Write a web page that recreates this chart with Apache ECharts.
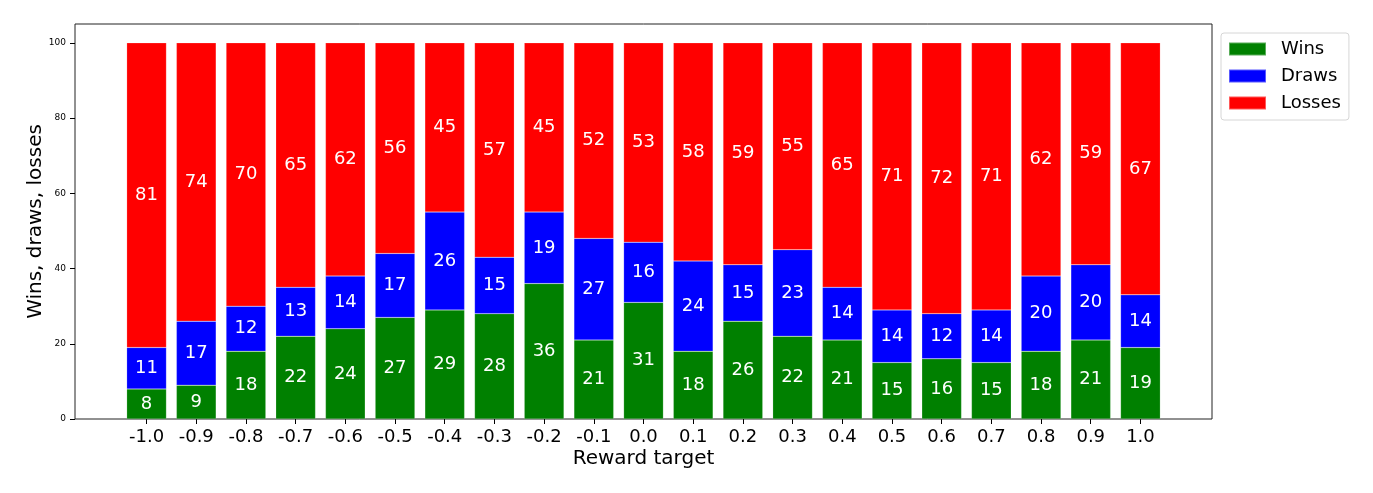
<!DOCTYPE html>
<html><head><meta charset="utf-8">
<script src="https://cdn.jsdelivr.net/npm/echarts@6/dist/echarts.min.js"></script>
<style>html,body{margin:0;padding:0;background:#fff}#c{width:1373px;height:493px}</style>
</head><body><div id="c"></div>
<script>
const categories = ['-1.0','-0.9','-0.8','-0.7','-0.6','-0.5','-0.4','-0.3','-0.2','-0.1','0.0','0.1','0.2','0.3','0.4','0.5','0.6','0.7','0.8','0.9','1.0'];
const wins   = [8,9,18,22,24,27,29,28,36,21,31,18,26,22,21,15,16,15,18,21,19];
const draws  = [11,17,12,13,14,17,26,15,19,27,16,24,15,23,14,14,12,14,20,20,14];
const losses = [81,74,70,65,62,56,45,57,45,52,53,58,59,55,65,71,72,71,62,59,67];
const yTicks = [0,20,40,60,80,100];

const FONT = 'DejaVu Sans';
const frameLeft = 75, frameTop = 24, frameW = 1137, frameH = 395;
const band = frameW / 22.88;
const barsLeft = frameLeft + 1.44 * band - 0.5 * band;
const barsW = band * 21;

function mk(name, data, color) {
  return {
    name, type: 'bar', stack: 'all', data, xAxisIndex: 1, yAxisIndex: 1,
    barWidth: '80%',
    itemStyle: { color, borderColor: 'rgba(255,255,255,0.35)', borderWidth: 0.5 },
    label: { show: true, position: 'inside', color: '#fff', fontSize: 18, fontFamily: FONT },
    emphasis: { disabled: true }
  };
}

const chart = echarts.init(document.getElementById('c'), null, { renderer: 'canvas' });
chart.setOption({
  animation: false,
  backgroundColor: '#fff',
  textStyle: { fontFamily: FONT },
  grid: [
    { left: frameLeft, top: frameTop, width: frameW, height: frameH, show: true, borderColor: '#222', borderWidth: 1, backgroundColor: 'transparent', containLabel: false },
    { left: barsLeft, top: frameTop, width: barsW, height: frameH, containLabel: false }
  ],
  xAxis: [
    { gridIndex: 0, type: 'value', show: false, min: 0, max: 1 },
    { gridIndex: 1, type: 'category', data: categories,
      axisLine: { show: false },
      axisTick: { show: true, alignWithLabel: true, length: 5, lineStyle: { color: '#000' } },
      axisLabel: { fontSize: 18, color: '#000', fontFamily: FONT, margin: 9 },
      name: 'Reward target', nameLocation: 'middle', nameGap: 30, nameMoveOverlap: false,
      nameTextStyle: { fontSize: 20, color: '#000', fontFamily: FONT } }
  ],
  yAxis: [
    { gridIndex: 0, type: 'value', show: false, min: 0, max: 1 },
    { gridIndex: 1, type: 'value', min: 0, max: 105, interval: 20,
      offset: barsLeft - frameLeft,
      axisLine: { show: false },
      axisTick: { show: true, length: 5, lineStyle: { color: '#000' } },
      axisLabel: { fontSize: 9, color: '#000', fontFamily: FONT, margin: 9, showMaxLabel: false,
        formatter: v => yTicks.includes(v) ? String(v) : '' },
      splitLine: { show: false },
      name: 'Wins, draws, losses', nameLocation: 'middle', nameGap: 29, nameRotate: 90, nameMoveOverlap: false,
      nameTextStyle: { fontSize: 20, color: '#000', fontFamily: FONT } }
  ],
  legend: {
    orient: 'vertical', left: 1221, top: 33,
    data: ['Wins','Draws','Losses'],
    icon: 'rect', itemWidth: 37, itemHeight: 13, itemGap: 9,
    padding: [7, 8, 8, 7],
    borderColor: '#d6d6d6', borderWidth: 1, borderRadius: 3, backgroundColor: '#fff',
    textStyle: { fontSize: 18, color: '#000', fontFamily: FONT, padding: [0, 0, 0, 10] }
  },
  series: [
    mk('Wins', wins, '#008000'),
    mk('Draws', draws, '#0000ff'),
    mk('Losses', losses, '#ff0000')
  ]
});
</script>
</body></html>
